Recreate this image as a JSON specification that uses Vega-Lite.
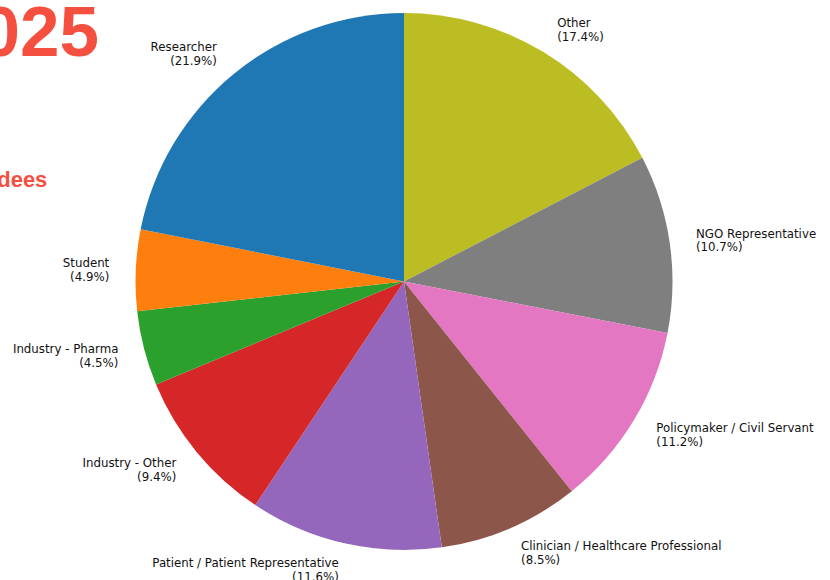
{
  "$schema": "https://vega.github.io/schema/vega-lite/v6.json",
  "autosize": "none",
  "width": 808,
  "height": 563,
  "padding": {"left": 0, "top": 0, "right": 22, "bottom": 17},
  "background": "white",
  "title": {
    "text": "\u00a02025",
    "subtitle": "Attendees",
    "anchor": "start",
    "frame": "group",
    "orient": "top",
    "align": "left",
    "dx": -59,
    "dy": 196,
    "font": "Liberation Sans",
    "fontSize": 71,
    "fontWeight": "bold",
    "color": "#f5503f",
    "subtitleFont": "Liberation Sans",
    "subtitleFontSize": 22,
    "subtitleFontWeight": "bold",
    "subtitleColor": "#f5503f",
    "subtitlePadding": 99
  },
  "data": {
    "values": [
      {"category": "Other", "percent": 17.4},
      {"category": "NGO Representative", "percent": 10.7},
      {"category": "Policymaker / Civil Servant", "percent": 11.2},
      {"category": "Clinician / Healthcare Professional", "percent": 8.5},
      {"category": "Patient / Patient Representative", "percent": 11.6},
      {"category": "Industry - Other", "percent": 9.4},
      {"category": "Industry - Pharma", "percent": 4.5},
      {"category": "Student", "percent": 4.9},
      {"category": "Researcher", "percent": 21.9}
    ]
  },
  "transform": [
    {"window": [{"op": "row_number", "as": "rank"}]},
    {"stack": "percent", "groupby": [], "sort": [{"field": "rank", "order": "ascending"}], "as": ["t0", "t1"]},
    {"calculate": "(datum.t0 + datum.t1) / 2", "as": "tmid"},
    {"calculate": "datum.category + '\\n(' + format(datum.percent, '.1f') + '%)'", "as": "label"}
  ],
  "layer": [
    {
      "mark": {"type": "arc", "outerRadius": 268.5, "stroke": null},
      "encoding": {
        "theta": {"field": "t0", "type": "quantitative", "scale": {"domain": [0, 100.1]}},
        "theta2": {"field": "t1"},
        "color": {
          "field": "category",
          "type": "nominal",
          "scale": {
            "domain": ["Researcher", "Student", "Industry - Pharma", "Industry - Other", "Patient / Patient Representative", "Clinician / Healthcare Professional", "Policymaker / Civil Servant", "NGO Representative", "Other"],
            "range": ["#1f77b4", "#ff7f0e", "#2ca02c", "#d62728", "#9467bd", "#8c564b", "#e377c2", "#7f7f7f", "#bcbd22"]
          },
          "legend": null
        }
      }
    },
    {
      "transform": [{"filter": {"field": "category", "oneOf": ["Other", "NGO Representative", "Policymaker / Civil Servant", "Clinician / Healthcare Professional"]}}],
      "mark": {"type": "text", "radius": 295, "align": "left", "baseline": "middle", "dy": -6, "lineBreak": "\n", "lineHeight": 13.6, "font": "DejaVu Sans", "fontSize": 11.8, "color": "#111111"},
      "encoding": {
        "theta": {"field": "tmid", "type": "quantitative"},
        "text": {"field": "label", "type": "nominal"}
      }
    },
    {
      "transform": [{"filter": {"field": "category", "oneOf": ["Patient / Patient Representative", "Industry - Other", "Industry - Pharma", "Student", "Researcher"]}}],
      "mark": {"type": "text", "radius": 295, "align": "right", "baseline": "middle", "dy": -6, "lineBreak": "\n", "lineHeight": 13.6, "font": "DejaVu Sans", "fontSize": 11.8, "color": "#111111"},
      "encoding": {
        "theta": {"field": "tmid", "type": "quantitative"},
        "text": {"field": "label", "type": "nominal"}
      }
    }
  ]
}
